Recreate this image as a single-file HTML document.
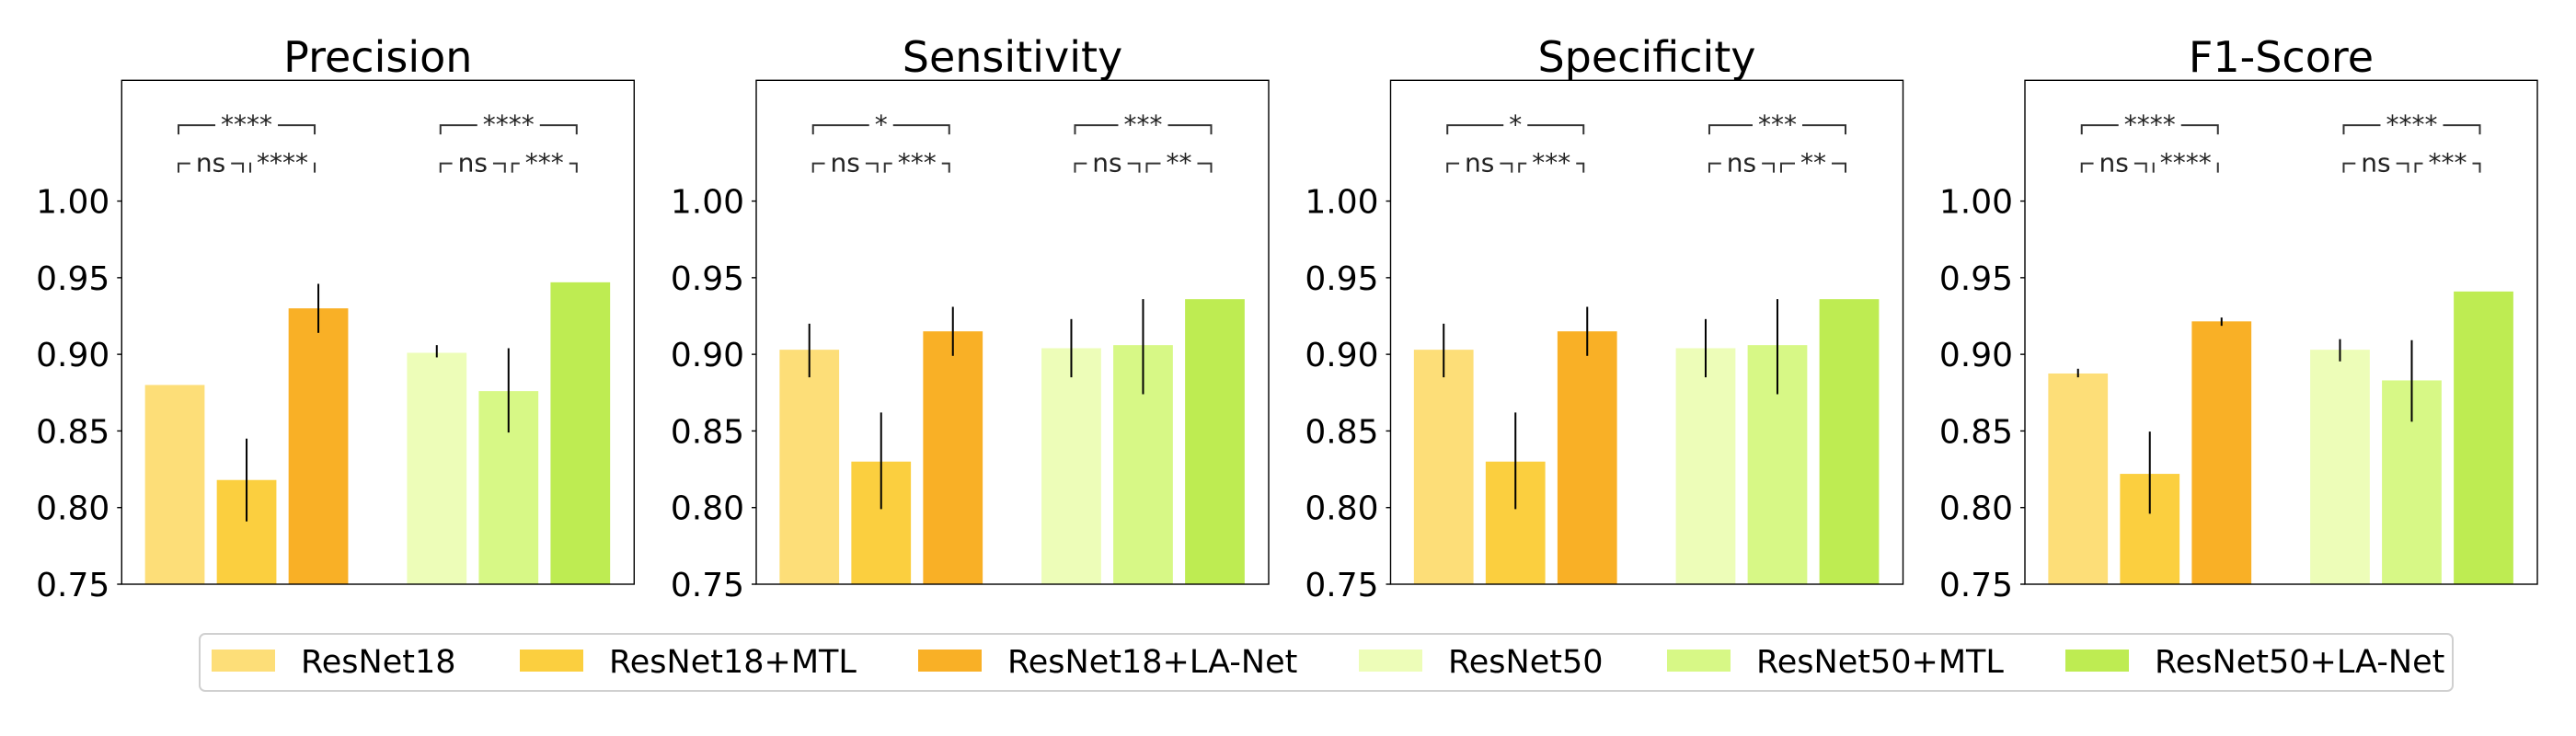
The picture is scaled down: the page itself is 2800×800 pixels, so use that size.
<!DOCTYPE html>
<html><head><meta charset="utf-8"><style>
html,body{margin:0;padding:0;background:#fff;}
svg{display:block;font-family:"DejaVu Sans","Liberation Sans",sans-serif;}
</style></head><body>
<svg id="chart" width="2800" height="800" viewBox="0 0 2800 800" xmlns="http://www.w3.org/2000/svg"></svg>
<script>
const metrics = ["Precision","Sensitivity","Specificity","F1-Score"];
const models = ["ResNet18","ResNet18+MTL","ResNet18+LA-Net","ResNet50","ResNet50+MTL","ResNet50+LA-Net"];
const colors = ["#FDDE78","#FBCF3F","#F9B026","#EDFDB8","#D7F886","#BEEC52"];
const precisionVals = [0.880,0.818,0.930,0.901,0.876,0.947];
const precisionErrLo = [null,0.791,0.914,0.898,0.849,null];
const precisionErrHi = [null,0.845,0.946,0.906,0.904,null];
const sensitivityVals = [0.903,0.830,0.915,0.904,0.906,0.936];
const sensitivityErrLo = [0.885,0.799,0.899,0.885,0.874,null];
const sensitivityErrHi = [0.920,0.862,0.931,0.923,0.936,null];
const specificityVals = [0.903,0.830,0.915,0.904,0.906,0.936];
const specificityErrLo = [0.885,0.799,0.899,0.885,0.874,null];
const specificityErrHi = [0.920,0.862,0.931,0.923,0.936,null];
const f1Vals = [0.8875,0.822,0.9215,0.903,0.883,0.941];
const f1ErrLo = [0.885,0.796,0.9186,0.8954,0.856,null];
const f1ErrHi = [0.8906,0.8496,0.924,0.9099,0.9092,null];
const allVals = [precisionVals,sensitivityVals,specificityVals,f1Vals];
const allLo = [precisionErrLo,sensitivityErrLo,specificityErrLo,f1ErrLo];
const allHi = [precisionErrHi,sensitivityErrHi,specificityErrHi,f1ErrHi];
const topLabels = [["****","****"],["*","***"],["*","***"],["****","****"]];
const lowLabels = [[["ns","****"],["ns","***"]],[["ns","***"],["ns","**"]],[["ns","***"],["ns","**"]],[["ns","****"],["ns","***"]]];
const yTicks = [0.75,0.80,0.85,0.90,0.95,1.00];
const yTickLabels = ["0.75","0.80","0.85","0.90","0.95","1.00"];

const NS="http://www.w3.org/2000/svg";
const svg=document.getElementById('chart');
const panelLeft=[132.3,822,1511.5,2201];
const axW=557, axTop=87.3, axBot=635;
const yMin=0.75, yMax=1.0788, xMin=-0.74, xMax=6.40;
const xPos=[0,1,2,3.65,4.65,5.65], barW=0.83;
function mk(tag,attrs,parent){const e=document.createElementNS(NS,tag);for(const k in attrs)e.setAttribute(k,attrs[k]);(parent||svg).appendChild(e);return e;}

metrics.forEach((m,p)=>{
  const L=panelLeft[p];
  const sx=v=>L+(v-xMin)/(xMax-xMin)*axW;
  const sy=v=>axBot-(v-yMin)/(yMax-yMin)*(axBot-axTop);
  const g=mk('g',{});
  
  
  const t=mk('text',{x:L+axW/2,y:78,'font-size':46,'text-anchor':'middle',fill:'#000'},g);
  t.textContent=m;
  
  
  const vals=allVals[p],lo=allLo[p],hi=allHi[p];
  vals.forEach((v,i)=>{
    const r=mk('rect',{x:sx(xPos[i]-barW/2),y:sy(v),width:sx(xPos[i]+barW/2)-sx(xPos[i]-barW/2),height:sy(yMin)-sy(v),fill:colors[i]},g);
    
    
    if(lo[i]!==null){
      const e=mk('line',{x1:sx(xPos[i]),x2:sx(xPos[i]),y1:sy(lo[i]),y2:sy(hi[i]),stroke:'#000','stroke-width':2},g);
      
      
    }
  });
  const fr=mk('rect',{x:L,y:axTop,width:axW,height:axBot-axTop,fill:'none',stroke:'#000','stroke-width':1.4},g);
  
  
  yTicks.forEach((v,i)=>{
    mk('line',{x1:L-5,x2:L,y1:sy(v),y2:sy(v),stroke:'#000','stroke-width':1.4},g);
    const tl=mk('text',{x:L-13,y:sy(v)+13,'font-size':36,'text-anchor':'end',fill:'#000'},g);
    tl.textContent=yTickLabels[i];
    
    
  });
  function bracket(i1,i2,yv,label){
    const x1=sx(xPos[i1])+4,x2=sx(xPos[i2])-4,y=sy(yv),leg=10;
    const bg=mk('g',{},g);
    
    
    const txt=mk('text',{x:(x1+x2)/2,y:y+9,'font-size':28,'text-anchor':'middle',fill:'#222'},bg);
    txt.textContent=label;
    let w=txt.getComputedTextLength()+12;
    const cx=(x1+x2)/2;
    mk('path',{d:`M${x1},${y+leg}V${y}H${cx-w/2}M${cx+w/2},${y}H${x2}V${y+leg}`,fill:'none',stroke:'#333','stroke-width':2},bg);
  }
  [0,3].forEach((s,gi)=>{
    bracket(s,s+2,1.0495,topLabels[p][gi]);
    bracket(s,s+1,1.0246,lowLabels[p][gi][0]);
    bracket(s+1,s+2,1.0246,lowLabels[p][gi][1]);
  });
});

const lg=mk('g',{});


mk('rect',{x:217,y:689,width:2449,height:62,rx:6,fill:'#fff',stroke:'#d0d0d0','stroke-width':2},lg);
const patchX=[230,565,998,1477,1812,2245];
models.forEach((m,i)=>{
  const eg=mk('g',{},lg);
  
  
  mk('rect',{x:patchX[i],y:706,width:69,height:24,fill:colors[i]},eg);
  const tt=mk('text',{x:patchX[i]+97,y:731,'font-size':35,fill:'#000'},eg);
  tt.textContent=m;
});
</script>
</body></html>
